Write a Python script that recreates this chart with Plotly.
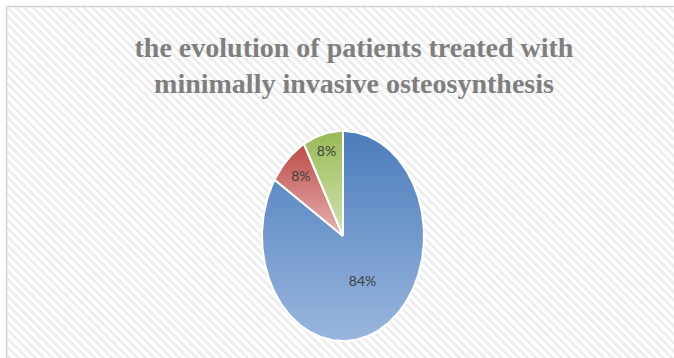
import numpy as np
import plotly.graph_objects as go

# ---- data ----
categories = ["Favourable", "Complications", "Reintervention"]
values = [84, 8, 8]
slice_labels = ["84%", "8%", "8%"]
title_text = "the evolution of patients treated with<br>minimally invasive osteosynthesis"

# ---- styles ----
W, H = 674, 358
cx, cy, rx, ry = 343, 236, 81, 105
gradients = [
    [[0, "#9ab6de"], [1, "#4a7dbb"]],
    [[0, "#e8b3b1"], [1, "#bd4b48"]],
    [[0, "#d3e4b3"], [1, "#98ba55"]],
]
label_frac = [0.5, 0.76, 0.82]

fig = go.Figure()

# hatched background frame
fig.add_trace(go.Scatter(
    x=[6.5, 690, 690, 6.5, 6.5], y=[6.5, 6.5, 380, 380, 6.5],
    mode="lines", fill="toself",
    line=dict(color="#d4d4d4", width=1.5),
    fillcolor="white",
    fillpattern=dict(shape="\\", fgcolor="#dadada", bgcolor="white", size=6, solidity=0.45),
    hoverinfo="skip", showlegend=False,
))

total = float(sum(values))
start = 0.0
for i, (cat, v) in enumerate(zip(categories, values)):
    a0 = start / total * 2 * np.pi
    a1 = (start + v) / total * 2 * np.pi
    th = np.linspace(a0, a1, max(8, int(v * 3)))
    xs = np.concatenate([[cx], cx + rx * np.sin(th), [cx]])
    ys = np.concatenate([[cy], cy - ry * np.cos(th), [cy]])
    fig.add_trace(go.Scatter(
        x=xs, y=ys, mode="lines", fill="toself",
        line=dict(color="white", width=2),
        fillgradient=dict(type="vertical", colorscale=gradients[i]),
        name=cat, hoverinfo="name", showlegend=False,
    ))
    mid = (a0 + a1) / 2
    fig.add_trace(go.Scatter(
        x=[cx + rx * np.sin(mid) * label_frac[i]],
        y=[cy - ry * np.cos(mid) * label_frac[i]],
        mode="text", text=[slice_labels[i]],
        textfont=dict(family="Lato", size=14, color="#404040"),
        hoverinfo="skip", showlegend=False,
    ))
    start += v

fig.update_layout(
    width=W, height=H,
    margin=dict(l=0, r=0, t=0, b=0),
    paper_bgcolor="white", plot_bgcolor="white",
    xaxis=dict(range=[0, W], visible=False, fixedrange=True),
    yaxis=dict(range=[H, 0], visible=False, fixedrange=True),
    title=dict(
        text=title_text, x=354 / W, xanchor="center",
        y=1 - 57 / H, yanchor="middle", yref="paper",
        font=dict(family="Liberation Serif", size=28, color="#7f7f7f", weight="bold"),
    ),
    showlegend=False,
)

fig.write_html("out.html")
